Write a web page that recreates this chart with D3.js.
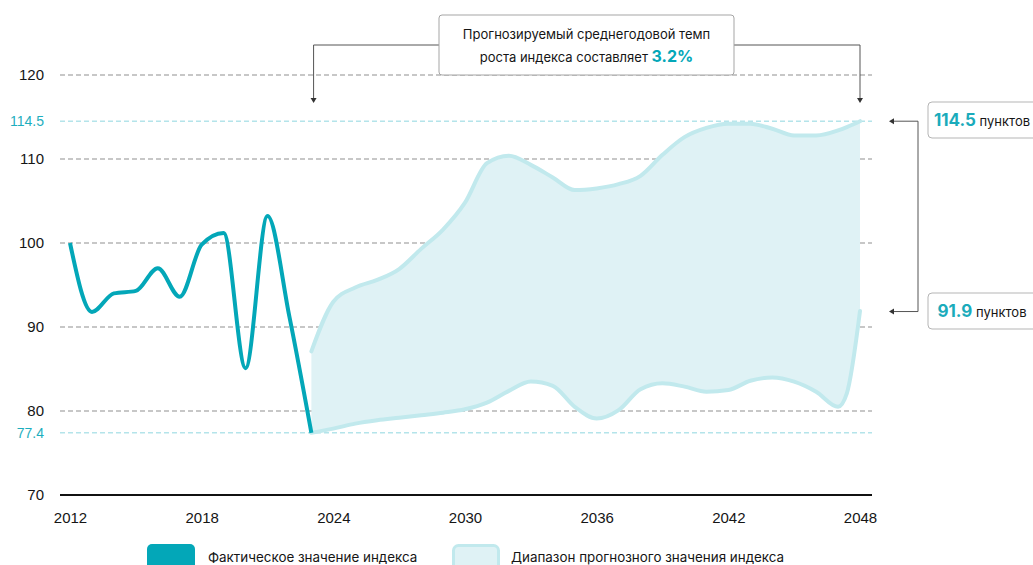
<!DOCTYPE html>
<html>
<head>
<meta charset="utf-8">
<script src="https://cdn.jsdelivr.net/npm/d3@7"></script>
<style>
  body { margin: 0; background: #fff; }
  svg { display: block; font-family: Inter, 'Noto Sans', sans-serif; }
</style>
</head>
<body>
<svg id="chart" width="1033" height="565"></svg>
<script>
'use strict'

/****** DATA ******/

const actualYears  = [2012, 2013, 2014, 2015, 2016, 2017, 2018, 2019, 2020, 2021, 2022, 2023]
const actualValues = [100, 91.8, 94.0, 94.3, 97.0, 93.6, 99.8, 101.2, 85.1, 103.2, 91.2, 77.4]

const forecastYears = [2023, 2024, 2025, 2026, 2027, 2028, 2029, 2030, 2031, 2032, 2033, 2034, 2035,
                       2036, 2037, 2038, 2039, 2040, 2041, 2042, 2043, 2044, 2045, 2046, 2047, 2047.4, 2048]
const forecastUpper = [87.1, 93.0, 94.7, 95.6, 96.9, 99.3, 101.6, 104.8, 109.5, 110.4, 109.3, 107.8, 106.3,
                       106.5, 107.0, 108.0, 110.5, 112.6, 113.7, 114.2, 114.2, 113.6, 112.8, 112.8, 113.4, 113.8, 114.5]
const forecastLower = [77.4, 77.9, 78.5, 78.9, 79.2, 79.5, 79.8, 80.2, 81.0, 82.4, 83.5, 83.0, 80.5,
                       79.1, 80.1, 82.6, 83.3, 82.9, 82.3, 82.5, 83.6, 84.0, 83.5, 82.3, 80.5, 82.1, 91.9]

const xTicks = [2012, 2018, 2024, 2030, 2036, 2042, 2048]
const yTicks = [70, 80, 90, 100, 110, 120]
const markTicks = [77.4, 114.5]

const growthRate = '3.2%'
const endUpper = 114.5
const endLower = 91.9
const legendLabels = ['Фактическое значение индекса', 'Диапазон прогнозного значения индекса']

/****** STYLE ******/

const DARK = '#03a7b8'
const LIGHT_STROKE = '#c1e9ed'
const LIGHT_FILL = '#dff2f5'
const GRID = '#b5b5b5'
const TEXT = '#151515'

const svg = d3.select('#chart')

const x = d3.scaleLinear().domain([2012, 2048]).range([70, 860])
const y = d3.scaleLinear().domain([70, 120]).range([495, 75])
const gridLeft = 60, gridRight = 872

const actual = actualYears.map((d, i) => ({ year: d, value: actualValues[i] }))
const band = forecastYears.map((d, i) => ({ year: d, hi: forecastUpper[i], lo: forecastLower[i] }))

// grid
svg.append('g')
  .selectAll('line')
  .data(yTicks.slice(1))
  .join('line')
    .attr('x1', gridLeft).attr('x2', gridRight)
    .attr('y1', d => y(d)).attr('y2', d => y(d))
    .attr('stroke', GRID)
    .attr('stroke-width', 1.5)
    .attr('stroke-dasharray', '5,3')

// forecast band
const area = d3.area()
  .x(d => x(d.year))
  .y0(d => y(d.lo))
  .y1(d => y(d.hi))
  .curve(d3.curveMonotoneX)

svg.append('path')
  .datum(band)
  .attr('fill', LIGHT_FILL)
  .attr('d', area)

// teal reference lines
svg.append('g')
  .selectAll('line')
  .data(markTicks)
  .join('line')
    .attr('x1', gridLeft).attr('x2', gridRight)
    .attr('y1', d => y(d)).attr('y2', d => y(d))
    .attr('stroke', '#b4e4ea')
    .attr('stroke-width', 1.5)
    .attr('stroke-dasharray', '5,3')

const hiLine = d3.line().x(d => x(d.year)).y(d => y(d.hi)).curve(d3.curveMonotoneX)
const loLine = d3.line().x(d => x(d.year)).y(d => y(d.lo)).curve(d3.curveMonotoneX)

for (const l of [hiLine, loLine]) {
  svg.append('path')
    .datum(band)
    .attr('fill', 'none')
    .attr('stroke', LIGHT_STROKE)
    .attr('stroke-width', 4)
    .attr('stroke-linecap', 'round')
    .attr('d', l)
}

// actual index
svg.append('path')
  .datum(actual)
  .attr('fill', 'none')
  .attr('stroke', DARK)
  .attr('stroke-width', 4)
  .attr('stroke-linejoin', 'round')
  .attr('d', d3.line().x(d => x(d.year)).y(d => y(d.value)).curve(d3.curveMonotoneX))

// baseline
svg.append('line')
  .attr('x1', gridLeft).attr('x2', gridRight)
  .attr('y1', y(70)).attr('y2', y(70))
  .attr('stroke', '#111')
  .attr('stroke-width', 2)

// axes
const xAxis = svg.append('g')
  .attr('transform', `translate(0,${y(70)})`)
  .call(d3.axisBottom(x).tickValues(xTicks).tickFormat(d3.format('d')).tickSize(0).tickPadding(17))
xAxis.select('.domain').remove()
xAxis.selectAll('text').attr('font-size', 15).attr('fill', TEXT).attr('font-family', null)

const yAxis = svg.append('g')
  .attr('transform', `translate(${gridLeft - 1},0)`)
  .call(d3.axisLeft(y).tickValues(yTicks.concat(markTicks)).tickSize(0).tickPadding(15)
    .tickFormat(d => markTicks.includes(d) ? d3.format('.1f')(d) : d))
yAxis.select('.domain').remove()
yAxis.selectAll('text')
  .attr('font-family', null)
  .attr('font-size', d => markTicks.includes(d) ? 14 : 15)
  .attr('fill', d => markTicks.includes(d) ? '#1eaebe' : TEXT)

/****** ANNOTATIONS ******/

const arrow = (g, px, py, dir) => {
  // small filled triangle; dir 'down' or 'left'
  const s = 3
  const pts = dir === 'down'
    ? [[px - s, py - 5], [px + s, py - 5], [px, py]]
    : [[px + 5, py - s], [px + 5, py + s], [px, py]]
  g.append('path').attr('d', d3.line()(pts) + 'Z').attr('fill', '#333')
}

// top bracket
const note = svg.append('g')
const bx0 = 439, bx1 = 734, by = 45
note.append('path')
  .attr('d', `M${x(2023.1)},101V${by}H${bx0}M${bx1},${by}H${x(2048)}V101`)
  .attr('fill', 'none')
  .attr('stroke', '#555')
  .attr('stroke-width', 1)
arrow(note, x(2023.1), 103, 'down')
arrow(note, x(2048), 103, 'down')

note.append('rect')
  .attr('x', bx0).attr('y', 15)
  .attr('width', bx1 - bx0).attr('height', 60)
  .attr('rx', 3)
  .attr('fill', '#fff')
  .attr('stroke', '#a5a5a5')

note.append('text')
  .attr('x', (bx0 + bx1) / 2).attr('y', 39)
  .attr('text-anchor', 'middle')
  .attr('font-size', 13)
  .attr('fill', TEXT)
  .text('Прогнозируемый среднегодовой темп')

const t2 = note.append('text')
  .attr('x', (bx0 + bx1) / 2).attr('y', 62)
  .attr('text-anchor', 'middle')
  .attr('font-size', 13)
  .attr('fill', TEXT)
t2.append('tspan').text('роста индекса составляет ')
t2.append('tspan')
  .attr('font-size', 16).attr('font-weight', 700).attr('fill', DARK)
  .text(growthRate)

// right bracket
const right = svg.append('g')
const rx = 918
right.append('path')
  .attr('d', `M891,${y(endUpper)}H${rx}V${y(endLower) + 0.5}H891`)
  .attr('fill', 'none')
  .attr('stroke', '#555')
  .attr('stroke-width', 1)
arrow(right, 889, y(endUpper), 'left')
arrow(right, 889, y(endLower) + 0.5, 'left')

const boxes = [
  { v: endUpper, top: 102 },
  { v: endLower, top: 293 }
]
for (const b of boxes) {
  right.append('rect')
    .attr('x', 928).attr('y', b.top)
    .attr('width', 130).attr('height', 36)
    .attr('rx', 4)
    .attr('fill', '#fff')
    .attr('stroke', '#b5b5b5')
  const t = right.append('text')
    .attr('x', 982).attr('y', b.top + 24)
    .attr('text-anchor', 'middle')
    .attr('fill', TEXT)
  t.append('tspan')
    .attr('font-size', 17).attr('font-weight', 700).attr('fill', '#1aabbb')
    .text(d3.format('.1f')(b.v))
  t.append('tspan').attr('font-size', 13).text(' пунктов')
}

/****** LEGEND ******/

const legend = svg.append('g')
legend.append('rect')
  .attr('x', 147).attr('y', 544).attr('width', 48).attr('height', 30).attr('rx', 5)
  .attr('fill', DARK)
legend.append('text')
  .attr('x', 208).attr('y', 562)
  .attr('font-size', 13.4).attr('fill', TEXT)
  .text(legendLabels[0])

legend.append('rect')
  .attr('x', 453.5).attr('y', 545.5).attr('width', 45).attr('height', 30).attr('rx', 5)
  .attr('fill', LIGHT_FILL)
  .attr('stroke', LIGHT_STROKE)
  .attr('stroke-width', 3)
legend.append('text')
  .attr('x', 511).attr('y', 562)
  .attr('font-size', 13.4).attr('fill', TEXT)
  .text(legendLabels[1])
</script>
</body>
</html>
